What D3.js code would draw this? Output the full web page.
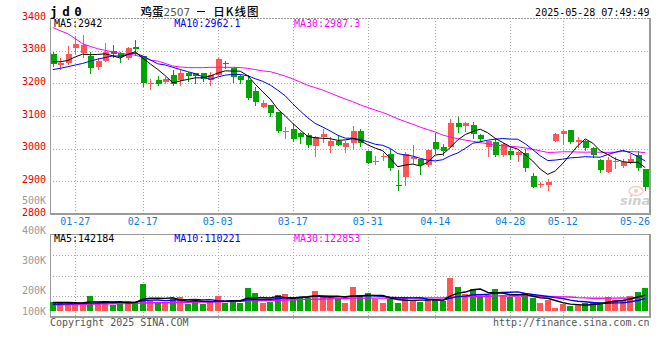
<!DOCTYPE html>
<html><head><meta charset="utf-8">
<script src="https://cdn.jsdelivr.net/npm/d3@7"></script>
<style>html,body{margin:0;padding:0;background:#fff;}svg{display:block}</style>
</head><body>
<svg id="c" width="660" height="360"></svg>
<script>
// ---------------- data ----------------
const dates = ["01-22","01-23","01-24","01-27","02-05","02-06","02-07","02-10","02-11","02-12",
"02-13","02-14","02-17","02-18","02-19","02-20","02-21","02-24","02-25","02-26",
"02-27","02-28","03-03","03-04","03-05","03-06","03-07","03-10","03-11","03-12",
"03-13","03-14","03-17","03-18","03-19","03-20","03-21","03-24","03-25","03-26",
"03-27","03-28","03-31","04-01","04-02","04-03","04-07","04-08","04-09","04-10",
"04-11","04-14","04-15","04-16","04-17","04-18","04-21","04-22","04-23","04-24",
"04-25","04-28","04-29","04-30","05-06","05-07","05-08","05-09","05-12","05-13",
"05-14","05-15","05-16","05-19","05-20","05-21","05-22","05-23","05-26","05-27"];
const open = [3290,3256,3261,3309,3292,3284,3251,3269,3300,3294,
3279,3310,3284,3197,3210,3205,3226,3210,3233,3231,
3231,3210,3226,3263,3248,3221,3210,3178,3127,3134,
3113,3052,3060,3049,3042,3008,3037,3008,3025,3006,
3018,3054,2993,2959,2974,2983,2889,2914,2968,2968,
2950,3021,3006,3006,3078,3068,3073,3042,3006,3021,
2981,2994,2981,2986,2916,2888,2889,3025,3045,3057,
3021,3025,3001,2966,2930,2958,2947,2957,2981,2939];
const close = [3258,3263,3289,3320,3317,3248,3269,3297,3290,3282,
3307,3306,3202,3200,3197,3212,3197,3231,3223,3221,
3212,3226,3274,3258,3218,3210,3156,3144,3141,3108,
3055,3054,3030,3037,3011,3035,3045,3025,3011,3018,
3054,3018,2957,2961,2978,2940,2887,2983,2976,2950,
2996,2998,2994,3080,3066,3078,3045,3029,3025,2981,
3014,2981,2991,2940,2884,2892,2899,3044,3054,3020,
3028,3003,2980,2935,2965,2961,2960,2967,2940,2882];
const high = [3296,3277,3314,3343,3348,3297,3277,3322,3317,3297,
3312,3333,3284,3212,3223,3220,3241,3241,3236,3231,
3233,3236,3277,3269,3248,3226,3226,3190,3149,3134,
3113,3067,3076,3052,3047,3039,3059,3035,3042,3025,
3069,3059,2993,2978,2986,2998,2935,2991,3011,2968,
2998,3047,3014,3090,3098,3083,3082,3045,3025,3032,
3016,3006,2994,2998,2927,2899,2906,3047,3057,3057,
3036,3027,3004,2968,2976,2973,2967,2984,2994,2939];
const low = [3252,3243,3259,3292,3282,3233,3244,3268,3280,3266,
3275,3287,3193,3183,3196,3200,3196,3195,3207,3200,
3208,3195,3224,3246,3205,3202,3151,3134,3127,3100,
3052,3032,3024,3018,3006,2979,3021,2991,3011,2991,
2998,3008,2955,2953,2965,2935,2872,2889,2955,2923,
2948,2986,2981,3004,3052,3055,3032,3025,2978,2977,
2977,2967,2963,2933,2882,2884,2874,3023,3015,3018,
3006,2996,2976,2930,2930,2940,2945,2955,2935,2872];
const volume = [77,83,80,59,59,136,68,89,53,68,
89,77,237,98,68,83,106,127,59,83,
59,92,136,68,98,68,202,157,68,83,
142,148,127,112,112,181,136,118,118,74,
217,142,157,103,74,103,74,127,98,83,
103,98,92,291,217,148,199,127,142,193,
142,121,127,157,112,74,98,29,59,47,
51,68,68,83,121,98,98,136,172,207].map(v => v * 1000);

const ma5Head = [3266,3266,3270,3281];
const ma10Head = [3242,3246,3251,3256,3261,3268,3274,3279,3284];
const ma30Head = [3371,3361,3352,3337,3321,3313,3306,3301,3296,3292,3289,3286,3280,3271,3268,3261,3253,3250,3248,3248,3248,3249,3249,3249,3249,3248,3246,3242,3238];
const vma5Head = [76000,76000,76000,74000];
const vma10Head = [60000,62000,64000,66000,68000,70000,72000,74000,76000];
const vma30Head = [55,56,57,58,60,62,63,64,65,66,67,68,72,73,74,75,76,78,78,79,80,81,83,84,85,86,90,93,94].map(v => v * 1000);

const priceTicks = [3400,3300,3200,3100,3000,2900,2800];
const volTicks = [500000,400000,300000,200000,100000];
const volTickText = ["500K","400K","300K","200K","100K"];
const dateTicks = ["01-27","02-17","03-03","03-17","03-31","04-14","04-28","05-12","05-26"];
const priceMaText = ["MA5:2942","MA10:2962.1","MA30:2987.3"];
const volMaText = ["MA5:142184","MA10:110221","MA30:122853"];
const titleCode = "jd0";
const titleName = "鸡蛋";
const titleNum = "2507";
const titleKind = "日K线图";
const stamp = "2025-05-28 07:49:49";

// ---------------- helpers ----------------
function movingAvg(arr, n, head) {
  return arr.map((_, i) => i < n - 1 ? head[i] : d3.mean(arr.slice(i - n + 1, i + 1)));
}
const ma5 = movingAvg(close, 5, ma5Head);
const ma10 = movingAvg(close, 10, ma10Head);
const ma30 = movingAvg(close, 30, ma30Head);
const vma5 = movingAvg(volume, 5, vma5Head);
const vma10 = movingAvg(volume, 10, vma10Head);
const vma30 = movingAvg(volume, 30, vma30Head);

const RED = "#ff5555", GREEN = "#00a600";
const FRAME = "#9a9a9a", GRID = "#a8a8a8";
const MONO = "'DejaVu Sans Mono', monospace";
const L = 50, R = 649;
const pTop = 18, pBot = 214, vTop = 234, vBot = 317, vBase = 311;

const svg = d3.select("#c");
const x = d3.scaleBand().domain(dates).range([49, 649]);
const cx = d => x(d) + x.bandwidth() / 2;
const yP = d3.scaleLinear().domain([2800, 3400]).range([pBot, pTop]);
const yV = d3.scaleLinear().domain([0, 400000]).range([vBase, vBase - 44.8]);
const yVLabel = d3.scaleLinear().domain([0, 500000]).range([350, 200]);
const yVGrid = d3.scaleLinear().domain([0, 4]).range([vBot, vTop]);

// ---------------- grid & frame ----------------
const g = svg.append("g").attr("shape-rendering", "crispEdges");
// horizontal price grid
g.selectAll(".hg").data(priceTicks.filter(v => v > 2800 && v < 3400)).enter().append("line")
  .attr("x1", L).attr("x2", R).attr("y1", d => Math.round(yP(d)) + 0.5).attr("y2", d => Math.round(yP(d)) + 0.5)
  .attr("stroke", GRID).attr("stroke-dasharray", "1,2");
// volume grid
g.selectAll(".vg").data([1, 2, 3]).enter().append("line")
  .attr("x1", L).attr("x2", R).attr("y1", d => Math.round(yVGrid(d)) + 0.5).attr("y2", d => Math.round(yVGrid(d)) + 0.5)
  .attr("stroke", GRID).attr("stroke-dasharray", "1,2");
// vertical date grid
const gridDates = dateTicks.filter(d => cx(d) < R - 20);
gridDates.forEach(d => {
  const xx = Math.round(cx(d)) + 0.5;
  g.append("line").attr("x1", xx).attr("x2", xx).attr("y1", pTop).attr("y2", pBot)
    .attr("stroke", GRID).attr("stroke-dasharray", "1,2");
  g.append("line").attr("x1", xx).attr("x2", xx).attr("y1", vTop).attr("y2", vBot + 3)
    .attr("stroke", GRID).attr("stroke-dasharray", "1,2");
});
// frames
g.append("line").attr("x1", L).attr("x2", R).attr("y1", pTop + 0.5).attr("y2", pTop + 0.5)
  .attr("stroke", FRAME).attr("stroke-dasharray", "2,1");
g.append("line").attr("x1", L + 0.5).attr("x2", L + 0.5).attr("y1", pTop).attr("y2", pBot).attr("stroke", FRAME);
g.append("line").attr("x1", R + 0.5).attr("x2", R + 0.5).attr("y1", pTop).attr("y2", pBot).attr("stroke", FRAME).attr("stroke-width", 2);
g.append("line").attr("x1", L).attr("x2", R + 1.5).attr("y1", pBot).attr("y2", pBot).attr("stroke", FRAME).attr("stroke-width", 2);
g.append("line").attr("x1", L).attr("x2", R + 1).attr("y1", vTop + 0.5).attr("y2", vTop + 0.5).attr("stroke", FRAME);
g.append("line").attr("x1", L + 0.5).attr("x2", L + 0.5).attr("y1", vTop).attr("y2", vBot).attr("stroke", FRAME);
g.append("line").attr("x1", R + 0.5).attr("x2", R + 0.5).attr("y1", vTop).attr("y2", vBot).attr("stroke", FRAME).attr("stroke-width", 2);
g.append("line").attr("x1", L).attr("x2", R + 1.5).attr("y1", vBot).attr("y2", vBot).attr("stroke", FRAME).attr("stroke-width", 1.5);

// ---------------- sina watermark ----------------
const wm = svg.append("g").attr("opacity", 0.55);
wm.append("ellipse").attr("cx", 636).attr("cy", 191).attr("rx", 7).attr("ry", 4.5)
  .attr("fill", "none").attr("stroke", "#f2a0a0").attr("stroke-width", 1.5);
wm.append("circle").attr("cx", 636).attr("cy", 191).attr("r", 2).attr("fill", "#f2a0a0");
wm.append("text").attr("x", 620).attr("y", 205).text("sina")
  .attr("font-family", "'DejaVu Sans', sans-serif").attr("font-size", 13).attr("font-weight", "bold")
  .attr("font-style", "italic").attr("fill", "#a8a8a8");

// ---------------- volume bars ----------------
const vb = svg.append("g").attr("shape-rendering", "crispEdges");
vb.selectAll("rect").data(dates).enter().append("rect")
  .attr("x", (d) => Math.round(cx(d)) - 3)
  .attr("width", 6)
  .attr("y", (d, i) => Math.round(yV(volume[i])))
  .attr("height", (d, i) => Math.max(1, vBase - Math.round(yV(volume[i]))))
  .attr("fill", (d, i) => close[i] >= open[i] ? RED : GREEN);

// ---------------- candles ----------------
const cg = svg.append("g").attr("shape-rendering", "crispEdges");
dates.forEach((d, i) => {
  const c = close[i] >= open[i] ? RED : GREEN;
  const xc = Math.round(cx(d));
  cg.append("line").attr("x1", xc + 0.5).attr("x2", xc + 0.5)
    .attr("y1", Math.round(yP(high[i]))).attr("y2", Math.round(yP(low[i])) + 1)
    .attr("stroke", c);
  const yt = Math.round(yP(Math.max(open[i], close[i])));
  const yb = Math.round(yP(Math.min(open[i], close[i])));
  cg.append("rect").attr("x", xc - 2).attr("width", 6)
    .attr("y", yt).attr("height", Math.max(1, yb - yt)).attr("fill", c);
});

// ---------------- MA lines ----------------
const lineP = d3.line().x((v, i) => cx(dates[i])).y(v => yP(v));
const lineV = d3.line().x((v, i) => cx(dates[i])).y(v => yV(v));
[[ma30, "#ff00ff"], [ma10, "#0000ff"], [ma5, "#000000"]].forEach(([arr, col]) => {
  svg.append("path").attr("d", lineP(arr)).attr("fill", "none").attr("stroke", col).attr("stroke-width", 1);
});
[[vma30, "#ff00ff"], [vma10, "#0000ff"], [vma5, "#000000"]].forEach(([arr, col]) => {
  svg.append("path").attr("d", lineV(arr)).attr("fill", "none").attr("stroke", col).attr("stroke-width", 1.4);
});

// ---------------- text ----------------
const T = svg.append("g").attr("font-family", MONO).attr("font-size", 10);
T.selectAll(".pl").data(priceTicks).enter().append("text")
  .attr("x", 46).attr("y", d => yP(d) + 1.5).attr("text-anchor", "end").attr("fill", "#e60000").text(d => d);
T.selectAll(".vl").data(volTicks).enter().append("text")
  .attr("x", 46).attr("y", d => Math.min(yVLabel(d), vBase) + 3.5).attr("text-anchor", "end")
  .attr("fill", "#9a9a9a").text((d, i) => volTickText[i]);
T.selectAll(".dl").data(dateTicks).enter().append("text")
  .attr("x", d => cx(d) + 15 > R ? R + 1 : cx(d))
  .attr("text-anchor", d => cx(d) + 15 > R ? "end" : "middle")
  .attr("y", 224.5).attr("fill", "#0a80dc").text(d => d);

const maCols = ["#000000", "#0000ff", "#ff00ff"];
const maX = [54, 174.3, 294];
priceMaText.forEach((t, i) => T.append("text").attr("x", maX[i]).attr("y", 27.3).attr("fill", maCols[i]).text(t));
volMaText.forEach((t, i) => T.append("text").attr("x", maX[i]).attr("y", 242.3).attr("fill", maCols[i]).text(t));

T.append("text").attr("x", 649.5).attr("y", 16).attr("text-anchor", "end").attr("fill", "#000").text(stamp);
T.append("text").attr("x", 50).attr("y", 326).attr("fill", "#555").text("Copyright 2025 SINA.COM");
T.append("text").attr("x", 649.5).attr("y", 326).attr("text-anchor", "end").attr("fill", "#555").text("http://finance.sina.com.cn");

// title
svg.append("text").attr("x", 50).attr("y", 15.5).text(titleCode)
  .attr("font-family", MONO).attr("font-size", 12.5).attr("font-weight", "bold").attr("letter-spacing", 4.6).attr("fill", "#000");
const CJK = "'Noto Sans CJK SC', sans-serif";
svg.append("text").attr("x", 140.5).attr("y", 16).text(titleName)
  .attr("font-family", CJK).attr("font-size", 11.5).attr("fill", "#000").attr("font-weight", 500);
svg.append("text").attr("x", 163.5).attr("y", 15.5).text(titleNum)
  .attr("font-family", "'DejaVu Sans', sans-serif").attr("font-size", 10.5).attr("fill", "#555");
svg.append("line").attr("x1", 196.5).attr("x2", 205).attr("y1", 11.5).attr("y2", 11.5)
  .attr("stroke", "#000").attr("stroke-width", 1).attr("shape-rendering", "crispEdges");
svg.append("text").attr("x", 213.3).attr("y", 16).text(titleKind)
  .attr("font-family", CJK).attr("font-size", 11.5).attr("letter-spacing", 1).attr("fill", "#000").attr("font-weight", 500);
</script>
</body></html>
